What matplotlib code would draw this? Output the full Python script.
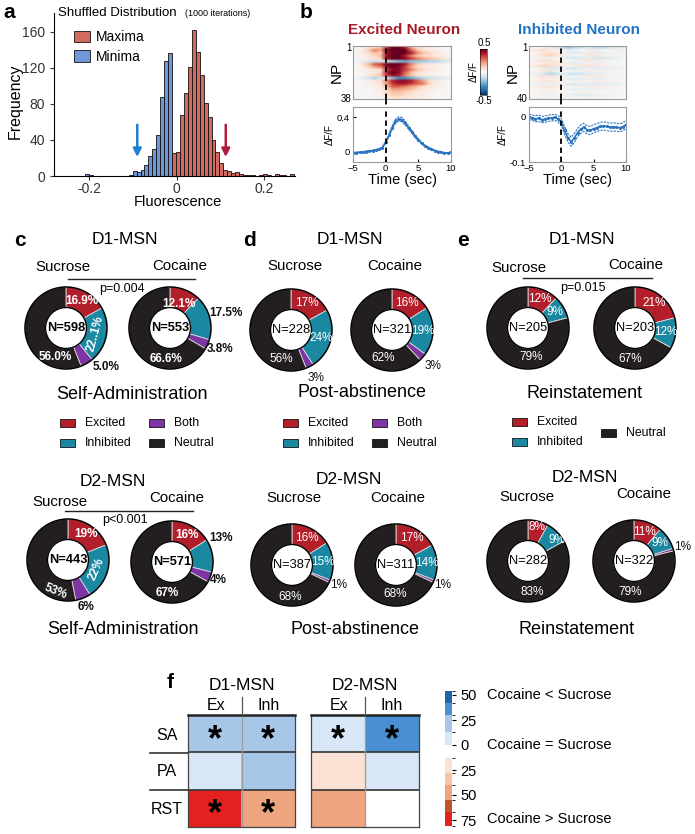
import numpy as np
import matplotlib
matplotlib.use("Agg")
import matplotlib.pyplot as plt
from matplotlib.patches import Circle, Rectangle
from matplotlib.lines import Line2D
from matplotlib.colors import ListedColormap, BoundaryNorm
from matplotlib.cm import ScalarMappable

plt.rcParams['font.family'] = ['Liberation Sans', 'DejaVu Sans']

# ---------------- data ----------------
# a: shuffled distribution histogram (bin width 0.009)
bin_w = 0.009
minima_first = -0.204
minima_counts = [2, 1, 0, 0, 0, 0, 0, 0, 0, 0, 0, 1, 6, 4, 7, 12, 22, 30, 45, 88, 128, 137]
maxima_first = -0.006
maxima_counts = [25, 27, 68, 92, 121, 162, 138, 112, 81, 66, 40, 27, 14, 7, 6, 3, 4, 2, 1, 1,
                 1, 0, 1, 2, 1, 0, 2, 1, 1, 0, 2]
min_thresh = -0.09
max_thresh = 0.112

# b: example neurons
t_trace = np.arange(-5, 10.5, 0.5)
exc_mean = [-0.010, -0.008, -0.005, -0.002, 0.005, 0.010, 0.015, 0.022, 0.030, 0.050, 0.110,
            0.190, 0.280, 0.350, 0.380, 0.370, 0.330, 0.280, 0.230, 0.180, 0.140, 0.100, 0.070,
            0.050, 0.030, 0.015, 0.005, -0.005, -0.012, -0.012, -0.005]
exc_sem = [0.006, 0.006, 0.006, 0.006, 0.006, 0.006, 0.006, 0.007, 0.007, 0.008, 0.012,
           0.016, 0.020, 0.024, 0.025, 0.025, 0.022, 0.020, 0.017, 0.015, 0.012, 0.010, 0.009,
           0.008, 0.007, 0.007, 0.006, 0.006, 0.006, 0.006, 0.006]
inh_mean = [0.000, -0.002, -0.004, -0.003, -0.006, -0.005, -0.003, -0.002, -0.001, -0.004,
            -0.012, -0.030, -0.046, -0.055, -0.047, -0.035, -0.027, -0.023, -0.029, -0.030,
            -0.026, -0.024, -0.021, -0.020, -0.021, -0.023, -0.022, -0.023, -0.024, -0.022, -0.017]
inh_sem = [0.006, 0.006, 0.007, 0.007, 0.007, 0.007, 0.007, 0.007, 0.007, 0.007, 0.008,
           0.009, 0.009, 0.010, 0.010, 0.009, 0.009, 0.009, 0.009, 0.009, 0.009, 0.009, 0.009,
           0.009, 0.009, 0.009, 0.009, 0.009, 0.009, 0.009, 0.009]

# heatmaps: rows = neuron groups, columns = seconds -5..10
exc_heat = [
    [0.00, 0.02, 0.06, 0.10, 0.15, 0.35, 0.50, 0.50, 0.40, 0.20, 0.08, 0.05, 0.03, 0.02, 0.01, 0.00],
    [0.02, 0.05, 0.12, 0.25, 0.20, 0.45, 0.55, 0.55, 0.50, 0.30, 0.15, 0.08, 0.05, 0.03, 0.02, 0.01],
    [0.00, 0.03, 0.08, 0.15, 0.12, 0.40, 0.55, 0.55, 0.50, 0.40, 0.25, 0.15, 0.10, 0.06, 0.04, 0.02],
    [0.01, 0.02, 0.05, 0.10, 0.15, 0.45, 0.55, 0.50, 0.40, 0.25, 0.15, 0.10, 0.08, 0.05, 0.03, 0.02],
    [0.00, 0.02, 0.05, 0.08, 0.10, 0.40, 0.50, 0.50, 0.45, 0.35, 0.25, 0.20, 0.15, 0.12, 0.08, 0.05],
    [-0.02, -0.05, -0.08, -0.10, -0.08, -0.05, -0.15, -0.20, -0.25, -0.20, -0.20, -0.18, -0.15, -0.15, -0.12, -0.08],
    [0.00, 0.05, 0.15, 0.30, 0.35, 0.50, 0.55, 0.50, 0.40, 0.25, 0.12, 0.08, 0.05, 0.03, 0.02, 0.01],
    [0.00, 0.03, 0.10, 0.20, 0.25, 0.40, 0.50, 0.45, 0.35, 0.20, 0.10, 0.06, 0.04, 0.02, 0.01, 0.00],
    [0.00, 0.02, 0.04, 0.06, 0.08, 0.35, 0.45, 0.45, 0.35, 0.25, 0.15, 0.10, 0.06, 0.04, 0.02, 0.01],
    [0.00, 0.01, 0.03, 0.05, 0.10, 0.40, 0.50, 0.45, 0.30, 0.15, 0.08, 0.05, 0.03, 0.02, 0.01, 0.00],
    [0.00, 0.02, 0.05, 0.10, 0.15, 0.35, 0.45, 0.40, 0.25, 0.15, 0.08, 0.05, 0.03, 0.02, 0.01, 0.00],
    [-0.02, -0.05, -0.10, -0.15, -0.10, -0.05, -0.20, -0.30, -0.30, -0.25, -0.20, -0.15, -0.12, -0.10, -0.08, -0.05],
    [0.00, 0.01, 0.03, 0.05, 0.08, 0.25, 0.40, 0.45, 0.45, 0.40, 0.30, 0.20, 0.10, 0.05, 0.02, 0.01],
    [0.00, 0.01, 0.02, 0.04, 0.06, 0.20, 0.35, 0.40, 0.40, 0.35, 0.30, 0.25, 0.10, 0.05, 0.02, 0.01],
    [0.00, 0.01, 0.02, 0.03, 0.05, 0.15, 0.30, 0.30, 0.25, 0.20, 0.15, 0.10, 0.05, 0.03, 0.02, 0.01],
    [0.00, 0.00, 0.01, 0.02, 0.03, 0.10, 0.20, 0.20, 0.18, 0.15, 0.10, 0.06, 0.04, 0.02, 0.01, 0.00],
    [0.00, 0.00, 0.01, 0.02, 0.03, 0.08, 0.15, 0.15, 0.12, 0.10, 0.06, 0.04, 0.02, 0.01, 0.00, 0.00],
    [0.00, -0.01, 0.00, 0.01, 0.02, 0.05, 0.12, 0.12, 0.10, 0.08, 0.05, 0.03, 0.02, 0.01, 0.00, 0.00],
    [0.00, 0.00, 0.00, 0.01, 0.01, 0.04, 0.08, 0.08, 0.06, 0.04, 0.03, 0.02, 0.01, 0.00, 0.00, 0.00],
]
inh_heat = [
    [0.00, 0.00, -0.02, -0.05, -0.08, -0.15, -0.20, -0.15, -0.12, -0.10, -0.12, -0.15, -0.12, -0.10, -0.08, -0.05],
    [0.05, 0.08, 0.10, 0.05, 0.02, 0.00, -0.05, -0.02, 0.00, 0.03, 0.05, 0.02, 0.00, 0.02, 0.03, 0.02],
    [0.00, 0.03, 0.06, 0.08, 0.04, 0.02, -0.06, -0.08, -0.05, -0.03, -0.05, -0.06, -0.04, -0.03, -0.02, -0.02],
    [0.02, 0.05, 0.10, 0.12, 0.08, 0.05, -0.02, 0.00, 0.03, 0.05, 0.06, 0.04, 0.03, 0.02, 0.02, 0.01],
    [0.00, -0.02, -0.03, -0.02, 0.00, -0.03, -0.08, -0.10, -0.08, -0.06, -0.08, -0.10, -0.08, -0.06, -0.05, -0.03],
    [0.03, 0.06, 0.10, 0.08, 0.04, 0.02, 0.00, 0.02, 0.04, 0.06, 0.05, 0.03, 0.02, 0.01, 0.01, 0.00],
    [0.00, 0.02, 0.03, 0.05, 0.06, 0.03, -0.04, -0.06, -0.04, -0.02, -0.03, -0.04, -0.03, -0.02, -0.01, 0.00],
    [0.05, 0.08, 0.12, 0.10, 0.06, 0.04, 0.02, 0.04, 0.06, 0.08, 0.06, 0.04, 0.03, 0.02, 0.01, 0.00],
    [0.00, -0.02, -0.05, -0.08, -0.06, -0.04, -0.08, -0.10, -0.06, -0.04, -0.05, -0.06, -0.05, -0.04, -0.03, -0.02],
    [0.02, 0.04, 0.06, 0.05, 0.03, 0.02, 0.00, 0.02, 0.03, 0.04, 0.03, 0.02, 0.02, 0.01, 0.01, 0.00],
    [-0.02, -0.05, -0.10, -0.15, -0.12, -0.06, -0.10, -0.12, -0.10, -0.08, -0.06, -0.05, -0.04, -0.03, -0.02, -0.01],
    [0.03, 0.05, 0.08, 0.06, 0.04, 0.02, -0.02, 0.00, 0.02, 0.04, 0.06, 0.05, 0.03, 0.02, 0.01, 0.01],
    [0.00, 0.02, 0.04, 0.03, 0.02, 0.00, -0.05, -0.06, -0.05, -0.04, -0.03, -0.04, -0.03, -0.02, -0.02, -0.01],
    [0.02, 0.04, 0.05, 0.06, 0.04, 0.02, 0.00, 0.02, 0.03, 0.03, 0.04, 0.05, 0.04, 0.03, 0.02, 0.01],
    [0.00, -0.02, -0.03, -0.02, -0.02, -0.02, -0.06, -0.08, -0.06, -0.05, -0.06, -0.07, -0.06, -0.05, -0.04, -0.03],
    [0.03, 0.05, 0.06, 0.08, 0.05, 0.03, 0.00, 0.01, 0.03, 0.05, 0.04, 0.03, 0.02, 0.02, 0.01, 0.00],
    [0.00, 0.01, 0.02, 0.02, 0.01, 0.00, -0.04, -0.05, -0.04, -0.03, -0.03, -0.03, -0.02, -0.02, -0.01, 0.00],
    [0.02, 0.03, 0.04, 0.05, 0.03, 0.02, 0.00, 0.01, 0.02, 0.03, 0.02, 0.02, 0.01, 0.01, 0.00, 0.00],
    [0.00, -0.01, -0.02, -0.03, -0.02, -0.01, -0.04, -0.06, -0.08, -0.06, -0.05, -0.04, -0.03, -0.02, -0.01, 0.00],
    [0.01, 0.02, 0.03, 0.02, 0.01, 0.00, -0.01, 0.00, 0.01, 0.02, 0.02, 0.01, 0.01, 0.00, 0.00, 0.00],
]

# c-e: percent of neurons [Excited, Inhibited, Both, Neutral]
categories = ['Excited', 'Inhibited', 'Both', 'Neutral']
d1_sa_suc = [16.9, 22.1, 5.0, 56.0]
d1_sa_coc = [12.1, 17.5, 3.8, 66.6]
d2_sa_suc = [19, 22, 6, 53]
d2_sa_coc = [16, 13, 4, 67]
d1_pa_suc = [17, 24, 3, 56]
d1_pa_coc = [16, 19, 3, 62]
d2_pa_suc = [16, 15, 1, 68]
d2_pa_coc = [17, 14, 1, 68]
d1_rst_suc = [12, 9, 0, 79]
d1_rst_coc = [21, 12, 0, 67]
d2_rst_suc = [8, 9, 0, 83]
d2_rst_coc = [11, 9, 1, 79]
n_d1 = {'SA': (598, 553), 'PA': (228, 321), 'RST': (205, 203)}
n_d2 = {'SA': (443, 571), 'PA': (387, 311), 'RST': (282, 322)}

# f: change in proportion (positive = Cocaine > Sucrose)
f_rows = ['SA', 'PA', 'RST']
f_cols = ['Ex', 'Inh']
f_d1 = [[-20, -22], [-7, -20], [75, 45]]
f_d2 = [[-8, -35], [20, -6], [45, 5]]
f_d1_sig = [[1, 1], [0, 0], [1, 1]]
f_d2_sig = [[1, 1], [0, 0], [0, 0]]
f_bounds = [-54, -42, -30, -13, 0, 13, 28, 40, 55, 67, 81]
f_colors = ['#2262a8', '#4a8fd2', '#a7c7e9', '#d8e7f5', '#ffffff', '#fbe2d4',
            '#f6c3a6', '#eea47e', '#c0532c', '#e3211f']

# ---------------- figure ----------------
W, H = 695, 834
fig = plt.figure(figsize=(W / 100, H / 100), dpi=100)


def box(x0, y0, x1, y1):
    return fig.add_axes([x0 / W, 1 - y1 / H, (x1 - x0) / W, (y1 - y0) / H])


def ftext(x, y, s, ha='center', va='center', **kw):
    fig.text(x / W, 1 - y / H, s, ha=ha, va=va, **kw)


def fline(x0, y0, x1, y1, **kw):
    fig.add_artist(Line2D([x0 / W, x1 / W], [1 - y0 / H, 1 - y1 / H], **kw))


# ---- a ----
ftext(3, 13, 'a', ha='left', fontsize=15, fontweight='bold')
ax = box(54, 13, 295, 176)
bx = minima_first + bin_w * np.arange(len(minima_counts))
rx = maxima_first + bin_w * np.arange(len(maxima_counts))
ax.bar(bx, minima_counts, width=bin_w, color='#6f96d6', edgecolor='#111111', lw=0.6, label='Minima')
ax.bar(rx, maxima_counts, width=bin_w, color='#d26b5f', edgecolor='#111111', lw=0.6, label='Maxima')
ax.annotate('', xy=(min_thresh, 18), xytext=(min_thresh, 60),
            arrowprops=dict(arrowstyle='-|>', color='#1f7fd0', lw=1.8, mutation_scale=12))
ax.annotate('', xy=(max_thresh, 18), xytext=(max_thresh, 60),
            arrowprops=dict(arrowstyle='-|>', color='#b01c3c', lw=1.8, mutation_scale=12))
ax.set_xlim(-0.28, 0.27)
ax.set_ylim(0, 181)
ax.set_xticks([-0.2, 0, 0.2])
ax.set_xticklabels(['-0.2', '0', '0.2'])
ax.set_yticks([0, 40, 80, 120, 160])
ax.tick_params(labelsize=10, colors='#333333', length=3)
ax.tick_params(axis='x', pad=1.5)
for s in ['top', 'right']:
    ax.spines[s].set_visible(False)
h, l = ax.get_legend_handles_labels()
ax.legend(h[::-1], l[::-1], loc='upper left', bbox_to_anchor=(0.03, 0.97), frameon=False,
          fontsize=10, handlelength=1.2, handleheight=0.9, handletextpad=0.4, labelspacing=0.4)
ftext(58, 13, 'Shuffled Distribution', ha='left', fontsize=9.5)
ftext(185, 14, '(1000 iterations)', ha='left', fontsize=6.5)
ftext(15, 101, 'Frequency', rotation=90, fontsize=11.5)
ftext(178, 202, 'Fluorescence', fontsize=10.5)

# ---- b ----
ftext(300, 13, 'b', ha='left', fontsize=15, fontweight='bold')
heat_kw = dict(cmap='RdBu_r', vmin=-0.5, vmax=0.5, aspect='auto', interpolation='bilinear')


def neuron(x0, x1, heat, nrows, mean, sem, ylim, yticks, yticklabels, title, tcolor):
    hm = box(x0, 46, x1, 99)
    im = hm.imshow(np.array(heat), extent=(-5, 10, nrows + 0.5, 0.5), **heat_kw)
    hm.set_xlim(-5, 10)
    hm.set_yticks([1, nrows])
    hm.set_xticks([])
    hm.tick_params(labelsize=7, length=0, pad=1)
    hm.axvline(0, color='k', ls=(0, (3, 2)), lw=1.3)
    hm.set_ylabel('NP', fontsize=11, labelpad=-2)
    ln = box(x0, 107, x1, 162)
    m = np.array(mean)
    s = np.array(sem)
    ln.plot(t_trace, m, color='#2c74c0', lw=1.2, marker='.', ms=2.5)
    ln.plot(t_trace, m + s, color='#2c74c0', lw=0.8, ls=(0, (2, 1)))
    ln.plot(t_trace, m - s, color='#2c74c0', lw=0.8, ls=(0, (2, 1)))
    ln.axvline(0, color='k', ls=(0, (3, 2)), lw=1.3)
    ln.set_xlim(-5, 10)
    ln.set_ylim(*ylim)
    ln.set_xticks([-5, 0, 5, 10])
    ln.set_yticks(yticks)
    ln.set_yticklabels(yticklabels)
    ln.tick_params(labelsize=6.8, direction='in', length=2, pad=1.5)
    ln.tick_params(axis='y', pad=2.5)
    ln.set_ylabel('ΔF/F', fontsize=7, labelpad=1)
    ln.set_xlabel('Time (sec)', fontsize=10.5, labelpad=0)
    for a in (hm, ln):
        for sp in a.spines.values():
            sp.set_color('#9a9a9a')
    ftext((x0 + x1) / 2 + 2, 30, title, fontsize=11, fontweight='bold', color=tcolor)
    xz = x0 + (x1 - x0) / 3
    fline(xz, 99, xz, 107, color='k', ls=(0, (3, 2)), lw=1.3)
    return im


im = neuron(353, 451, exc_heat, 38, exc_mean, exc_sem, (-0.115, 0.515), [0, 0.4], ['0', '0.4'],
            'Excited Neuron', '#a61b29')
neuron(529, 626, inh_heat, 40, inh_mean, inh_sem, (-0.1, 0.022), [-0.1, 0], ['-0.1', '0'],
       'Inhibited Neuron', '#2273c3')
cax = box(480, 49, 487, 95)
cb = fig.colorbar(im, cax=cax, ticks=[])
cb.outline.set_linewidth(0.4)
ftext(484, 43, '0.5', fontsize=7)
ftext(484, 101, '-0.5', fontsize=7)
ftext(474, 72, 'ΔF/F', rotation=90, fontsize=7)

# ---- c, d, e donuts ----
seg_colors = ['#b31e2b', '#1b88a2', '#7c35a3', '#231f20']
R = 41


def donut(cx, cy, vals, n, bold, fmt='{:g}%', outside=(2,), tweaks=None, override=None):
    tweaks = tweaks or {}
    ax = box(cx - R * 1.03, cy - R * 1.03, cx + R * 1.03, cy + R * 1.03)
    ax.pie(vals, colors=seg_colors, startangle=90, counterclock=False, radius=1,
           wedgeprops=dict(width=0.5, edgecolor='#dcdcdc', linewidth=0.6))
    ax.add_patch(Circle((0, 0), 1, fill=False, ec='k', lw=1.1))
    ax.add_patch(Circle((0, 0), 0.5, fill=False, ec='k', lw=1.0))
    ax.set_xlim(-1.03, 1.03)
    ax.set_ylim(-1.03, 1.03)
    ax.axis('off')
    w = 'bold' if bold else 'normal'
    ax.text(0, 0, 'N=%d' % n, ha='center', va='center', fontsize=9.3, fontweight=w)
    cum = 0
    for i, v in enumerate(vals):
        mid = 90 - 3.6 * (cum + v / 2)
        cum += v
        if v == 0:
            continue
        out = i in outside
        rad = 1.32 if out else 0.76
        theta = 262 if i == 3 else mid
        rot = 0
        if i in tweaks:
            tr, tt, rot = tweaks[i]
            rad = tr if tr is not None else rad
            theta = tt if tt is not None else theta
        lab = fmt.format(v)
        if override and i in override:
            lab = override[i]
        ax.text(rad * np.cos(np.radians(theta)), rad * np.sin(np.radians(theta)), lab,
                ha='center', va='center', fontsize=8.5, fontweight=w, rotation=rot,
                color='#111111' if out else 'white')


donut(66, 328, d1_sa_suc, n_d1['SA'][0], True, '{:.1f}%',
      tweaks={1: (0.74, None, 75), 2: (1.36, -44, 0), 3: (0.76, 249, 0)}, override={1: '22..1%'})
donut(170, 328, d1_sa_coc, n_d1['SA'][1], True, '{:.1f}%', outside=(1, 2),
      tweaks={0: (0.62, 70, 0), 1: (1.4, None, 0)})
donut(291, 330, d1_pa_suc, n_d1['PA'][0], False, tweaks={3: (0.76, 251, 0)})
donut(392, 330, d1_pa_coc, n_d1['PA'][1], False, tweaks={3: (0.72, 252, 0)})
donut(528, 328, d1_rst_suc, n_d1['RST'][0], False, tweaks={3: (0.7, 276, 0)})
donut(635, 328, d1_rst_coc, n_d1['RST'][1], False)
donut(68, 560, d2_sa_suc, n_d2['SA'][0], True,
      tweaks={1: (0.74, None, 66), 3: (0.82, 248, -22), 2: (1.22, None, 0)})
donut(172, 562, d2_sa_coc, n_d2['SA'][1], True, outside=(1, 2),
      tweaks={1: (1.33, 26, 0), 2: (1.22, None, 0)})
donut(292, 565, d2_pa_suc, n_d2['PA'][0], False, tweaks={2: (1.25, None, 0), 3: (0.78, 266, 0)})
donut(396, 565, d2_pa_coc, n_d2['PA'][1], False, tweaks={2: (1.25, None, 0), 3: (0.7, 268, 0)})
donut(528, 561, d2_rst_suc, n_d2['RST'][0], False,
      tweaks={0: (0.86, 76, 0), 1: (0.88, 36, 0), 3: (0.75, 277, 0)})
donut(634, 561, d2_rst_coc, n_d2['RST'][1], False, tweaks={2: (1.24, None, 0)})

# headers
for letter, x in (('c', 20), ('d', 250), ('e', 463)):
    ftext(x, 240, letter, fontsize=15, fontweight='bold')
hdr = dict(fontsize=12.5)
sub = dict(fontsize=10.8)
ftext(125, 239, 'D1-MSN', **hdr)
ftext(350, 239, 'D1-MSN', **hdr)
ftext(582, 239, 'D1-MSN', **hdr)
ftext(113, 481, 'D2-MSN', **hdr)
ftext(349, 479, 'D2-MSN', **hdr)
ftext(585, 478, 'D2-MSN', **hdr)
for x, y, s in ((63, 267, 'Sucrose'), (180, 266, 'Cocaine'), (295, 266, 'Sucrose'),
                (395, 266, 'Cocaine'), (519, 268, 'Sucrose'), (636, 265, 'Cocaine'),
                (60, 502, 'Sucrose'), (177, 498, 'Cocaine'), (294, 498, 'Sucrose'),
                (398, 498, 'Cocaine'), (527, 497, 'Sucrose'), (644, 494, 'Cocaine')):
    ftext(x, y, s, **sub)
fline(68, 279, 195, 279, color='#222222', lw=1)
fline(523, 278, 652, 278, color='#222222', lw=1)
fline(65, 511, 193, 511, color='#222222', lw=1)
ftext(122, 289, 'p=0.004', fontsize=9)
ftext(583, 288, 'p=0.015', fontsize=9)
ftext(125, 520, 'p<0.001', fontsize=9)
for x, y, s in ((132, 395, 'Self-Administration'), (362, 393, 'Post-abstinence'),
                (585, 394, 'Reinstatement'), (123, 629, 'Self-Administration'),
                (355, 630, 'Post-abstinence'), (577, 630, 'Reinstatement')):
    ftext(x, y, s, fontsize=13)


def legend_item(x, y, i):
    fig.add_artist(Rectangle((x / W, 1 - (y + 4) / H), 15 / W, 8 / H,
                             facecolor=seg_colors[i], edgecolor='#111111', lw=0.6))
    ftext(x + 25, y, categories[i], ha='left', fontsize=8.8)


for x0 in (60, 283):
    legend_item(x0, 423, 0)
    legend_item(x0, 443, 1)
    legend_item(x0 + 89, 423, 2)
    legend_item(x0 + 89, 443, 3)
legend_item(512, 422, 0)
legend_item(512, 442, 1)
legend_item(601, 433, 3)

# ---- f ----
ftext(170, 683, 'f', fontsize=15, fontweight='bold')
f_cmap = ListedColormap(f_colors)
f_norm = BoundaryNorm(f_bounds, f_cmap.N)
for (x0, x1, vals, sig, name) in ((188, 295, f_d1, f_d1_sig, 'D1-MSN'),
                                  (311, 419, f_d2, f_d2_sig, 'D2-MSN')):
    ax = box(x0, 715, x1, 827)
    ax.imshow(np.array(vals), cmap=f_cmap, norm=f_norm, extent=(0, 2, 3, 0), aspect='auto')
    ax.set_xlim(0, 2)
    ax.set_ylim(3, 0)
    ax.set_xticks([])
    ax.set_yticks([])
    ax.axhline(1, color='#333333', lw=1.2)
    ax.axhline(2, color='#333333', lw=1.2)
    ax.axvline(1, color='#9a9a9a', lw=0.9)
    for sp in ax.spines.values():
        sp.set_color('#444444')
        sp.set_linewidth(0.9)
    ax.spines['top'].set_linewidth(1.8)
    ax.spines['top'].set_color('#222222')
    for i in range(3):
        for j in range(2):
            if sig[i][j]:
                ax.text(j + 0.5, i + 0.68, '*', ha='center', va='center', fontsize=26,
                        fontweight='bold')
    xm = (x0 + x1) / 2
    ftext(xm, 685, name, fontsize=12.5)
    ftext(x0 + (xm - x0) / 2 + 1, 705, f_cols[0], fontsize=11.5)
    ftext(xm + (x1 - xm) / 2, 705, f_cols[1], fontsize=11.5)
    fline(xm, 697, xm, 715, color='#555555', lw=0.9)
for y, s in zip((736, 772, 810), f_rows):
    ftext(167, y, s, fontsize=11.5)
fline(150, 753, 188, 753, color='#333333', lw=1.2)
fline(150, 790, 188, 790, color='#333333', lw=1.2)

cax = box(445, 691, 452, 826)
cb = fig.colorbar(ScalarMappable(norm=f_norm, cmap=f_cmap), cax=cax, spacing='proportional',
                  ticks=[-50, -25, 0, 25, 50, 75])
cax.invert_yaxis()
cb.set_ticklabels(['50', '25', '0', '25', '50', '75'])
cb.outline.set_visible(False)
cax.tick_params(labelsize=10.5, length=3, width=0.8, pad=3)
ftext(487, 695, 'Cocaine < Sucrose', ha='left', fontsize=10.5)
ftext(487, 745, 'Cocaine = Sucrose', ha='left', fontsize=10.5)
ftext(487, 819, 'Cocaine > Sucrose', ha='left', fontsize=10.5)

fig.savefig('out.png', dpi=100)
